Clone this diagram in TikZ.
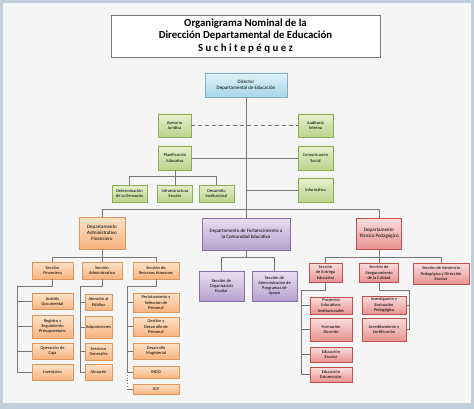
\documentclass[tikz,border=0pt]{standalone}
\usepackage{fontspec}
\setmainfont{Carlito}
\usetikzlibrary{shadows}
\definecolor{framecol}{HTML}{C3CFDA}
\definecolor{bgcol}{HTML}{F5F5F5}
\definecolor{linecol}{HTML}{777777}
\definecolor{blueTop}{HTML}{E2F2F8}
\definecolor{blueBot}{HTML}{A6D6E8}
\definecolor{blueLine}{HTML}{7FAFC8}
\definecolor{greenTop}{HTML}{E6EFCE}
\definecolor{greenBot}{HTML}{BCD48C}
\definecolor{greenLine}{HTML}{8DAE52}
\definecolor{orangeTop}{HTML}{FDE2C8}
\definecolor{orangeBot}{HTML}{F7B37F}
\definecolor{orangeLine}{HTML}{E0955A}
\definecolor{purpleTop}{HTML}{E8DFF0}
\definecolor{purpleBot}{HTML}{B7A2CF}
\definecolor{purpleLine}{HTML}{8770A8}
\definecolor{redTop}{HTML}{FADEDD}
\definecolor{redBot}{HTML}{E89391}
\definecolor{redLine}{HTML}{C0504D}
\tikzset{
    box/.style={draw, rectangle, inner sep=0.5pt, font=\fontsize{4.4}{5.2}\selectfont,
        drop shadow={opacity=0.25, shadow xshift=0.8pt, shadow yshift=-0.8pt}},
    bigtext/.style={font=\fontsize{5}{6}\selectfont},
    wh/.style 2 args={minimum width=#1, minimum height=#2},
    bluebox/.style={box, draw=blueLine, top color=blueTop, bottom color=blueBot},
    greenbox/.style={box, draw=greenLine, top color=greenTop, bottom color=greenBot},
    orangebox/.style={box, draw=orangeLine, top color=orangeTop, bottom color=orangeBot},
    purplebox/.style={box, draw=purpleLine, top color=purpleTop, bottom color=purpleBot},
    redbox/.style={box, draw=redLine, top color=redTop, bottom color=redBot},
    conn/.style={draw=linecol, line width=0.8pt},
}
\begin{document}
\begin{tikzpicture}[x=1pt, y=-1pt, every text node part/.style={align=center}]
        \useasboundingbox (0, 0) rectangle (474, 409);
        \fill[framecol] (0, 0) rectangle (474, 409);
        \fill[bgcol] (3, 3) rectangle (471, 403);

        \node(Title) at (245.5, 36)[draw=linecol, fill=white, line width=0.8pt, wh={269}{42}, inner sep=0pt, font=\fontsize{10.8}{12.5}\selectfont\bfseries]{Organigrama Nominal de la\\Dirección Departamental de Educación\\S u c h i t e p é q u e z};

        \node(Director) at (246, 85)[bluebox, bigtext, wh={82}{24}]{Director\\Departamental de Educación};

        \node(Asesoria) at (174.5, 125.5)[greenbox, wh={33}{23}]{Asesoría\\Jurídica};
        \node(Auditoria) at (315.5, 125.5)[greenbox, wh={35}{23}]{Auditoría\\Interna};
        \node(Planificacion) at (175, 158)[greenbox, wh={33}{24}]{Planificación\\Educativa};
        \node(Comunicacion) at (315.5, 158)[greenbox, wh={35}{24}]{Comunicación\\Social};
        \node(Determinacion) at (129.5, 193.5)[greenbox, wh={35}{17}]{Determinación\\de la Demanda};
        \node(Infraestructura) at (175, 193.5)[greenbox, wh={35}{17}]{Infraestructura\\Escolar};
        \node(DesInstitucional) at (216.5, 193.5)[greenbox, wh={35}{17}]{Desarrollo\\Institucional};
        \node(Informatica) at (315.5, 190)[greenbox, wh={35}{24}]{Informática};

        \node(DeptAdmin) at (102, 233)[orangebox, bigtext, wh={46}{32}]{Departamento\\Administrativo\\Financiero};
        \node(SecFin) at (52.5, 270.5)[orangebox, wh={41}{17}]{Sección\\Financiera};
        \node(SecAdm) at (102, 270.5)[orangebox, wh={40}{17}]{Sección\\Administrativa};
        \node(SecRH) at (156, 270.5)[orangebox, wh={46}{17}]{Sección de\\Recursos Humanos};
        \node(Analisis) at (52.5, 301.5)[orangebox, wh={41}{16}]{Análisis\\Documental};
        \node(Registro) at (52.5, 326.5)[orangebox, wh={41}{23}]{Registro y\\Seguimiento\\Presupuestario};
        \node(Caja) at (52.5, 351)[orangebox, wh={41}{16}]{Operación de\\Caja};
        \node(Inventario) at (52.5, 372)[orangebox, wh={41}{16}]{Inventario};
        \node(Atencion) at (98.5, 302)[orangebox, wh={27}{16}]{Atención al\\Público};
        \node(Adquisiciones) at (98.5, 327)[orangebox, wh={27}{22}]{Adquisiciones};
        \node(Servicios) at (98.5, 351.5)[orangebox, wh={27}{17}]{Servicios\\Generales};
        \node(Almacen) at (98.5, 372)[orangebox, wh={27}{16}]{Almacén};
        \node(Reclutamiento) at (156, 302.5)[orangebox, wh={46}{19}]{Reclutamiento y\\Selección de\\Personal};
        \node(Gestion) at (156, 326.5)[orangebox, wh={46}{19}]{Gestión y\\Desarrollo de\\Personal};
        \node(DesMagisterial) at (156, 351)[orangebox, wh={46}{16}]{Desarrollo\\Magisterial};
        \node(Indo) at (156, 372)[orangebox, wh={46}{12}]{INDO};
        \node(Icp) at (156, 389)[orangebox, wh={46}{10}]{ICP};

        \node(DeptFort) at (246, 234)[purplebox, bigtext, wh={88}{32}]{Departamento de Fortalecimiento a\\la Comunidad Educativa};
        \node(SecOrg) at (221.5, 286)[purplebox, wh={45}{30}]{Sección de\\Organización\\Escolar};
        \node(SecApoyo) at (274.5, 286)[purplebox, wh={45}{30}]{Sección de\\Administración de\\Programas de\\Apoyo};

        \node(DeptTec) at (379, 233.5)[redbox, bigtext, wh={45}{31}]{Departamento\\Técnico Pedagógico};
        \node(SecEnt) at (325.5, 272.5)[redbox, wh={33}{19}]{Sección\\de Entrega\\Educativa};
        \node(SecAse) at (379, 272.5)[redbox, wh={39}{19}]{Sección de\\Aseguramiento\\de la Calidad};
        \node(SecAsi) at (441, 273.5)[redbox, wh={56}{21}]{Sección de Asistencia\\Pedagógica y Dirección\\Escolar};
        \node(Proyectos) at (331, 305.5)[redbox, wh={42}{17}]{Proyectos\\Educativos\\Institucionales};
        \node(Formacion) at (331, 329.5)[redbox, wh={42}{23}]{Formación\\Docente};
        \node(EdEscolar) at (331, 354.5)[redbox, wh={42}{15}]{Educación\\Escolar};
        \node(EdExtra) at (331, 374.5)[redbox, wh={42}{15}]{Educación\\Extraescolar};
        \node(Investigacion) at (384, 305)[redbox, wh={44}{18}]{Investigación y\\Evaluación\\Pedagógica};
        \node(Acreditamiento) at (384, 329.5)[redbox, wh={44}{23}]{Acreditamiento y\\Certificación};

        \coordinate(mainBus) at (0, 209);
        \coordinate(planBus) at (0, 176);
        \coordinate(secBus) at (0, 257);
        \coordinate(finBus) at (17, 286);
        \coordinate(admBus) at (80, 286);
        \coordinate(rhBus) at (127, 286);
        \coordinate(entBus) at (301, 290);
        \coordinate(aseBus) at (409, 290);

        \draw[conn] (Director.south) -- (DeptFort.north);
        \draw[conn, dashed, dash pattern=on 4pt off 3pt, line width=1.1pt] (Asesoria.east) -- (Auditoria.west);
        \draw[conn] (Planificacion.east) -- (Comunicacion.west);
        \draw[conn] (Director.south |- Informatica.west) -- (Informatica.west);
        \draw[conn] (Planificacion.south) -- (Infraestructura.north);
        \draw[conn] (Determinacion.north) -- (Determinacion.north |- planBus) -| (DesInstitucional.north);

        \draw[conn] (DeptAdmin.north) -- (DeptAdmin.north |- mainBus) -| (DeptTec.north);

        \draw[conn] (DeptAdmin.south) -- (SecAdm.north);
        \draw[conn] (SecFin.north) -- (SecFin.north |- secBus) -| (SecRH.north);
        \draw[conn] (SecFin.south) |- (finBus) -- (finBus |- Inventario.west) -- (Inventario.west);
        \foreach \n in {Analisis, Registro, Caja}
            \draw[conn] (finBus |- \n.west) -- (\n.west);
        \draw[conn] (SecAdm.south) |- (admBus) -- (admBus |- Almacen.west) -- (Almacen.west);
        \foreach \n in {Atencion, Adquisiciones, Servicios}
            \draw[conn] (admBus |- \n.west) -- (\n.west);
        \draw[conn] (SecRH.south) |- (rhBus) -- (rhBus |- Indo.west) -- (Indo.west);
        \foreach \n in {Reclutamiento, Gestion, DesMagisterial}
            \draw[conn] (rhBus |- \n.west) -- (\n.west);
        \draw[conn, dotted] (rhBus |- Indo.west) -- (rhBus |- Icp.west);
        \draw[conn] (rhBus |- Icp.west) -- (Icp.west);

        \draw[conn] (DeptFort.south) -- (DeptFort.south |- secBus);
        \draw[conn] (SecOrg.north) -- (SecOrg.north |- secBus) -| (SecApoyo.north);

        \draw[conn] (DeptTec.south) -- (SecAse.north);
        \draw[conn] (SecEnt.north) -- (SecEnt.north |- secBus) -| (SecAsi.north);
        \draw[conn] (SecEnt.south) |- (entBus) -- (entBus |- EdExtra.west) -- (EdExtra.west);
        \foreach \n in {Proyectos, Formacion, EdEscolar}
            \draw[conn] (entBus |- \n.west) -- (\n.west);
        \draw[conn] (SecAse.south) |- (aseBus) -- (aseBus |- Acreditamiento.east) -- (Acreditamiento.east);
        \draw[conn] (aseBus |- Investigacion.east) -- (Investigacion.east);
    \end{tikzpicture}
\end{document}
